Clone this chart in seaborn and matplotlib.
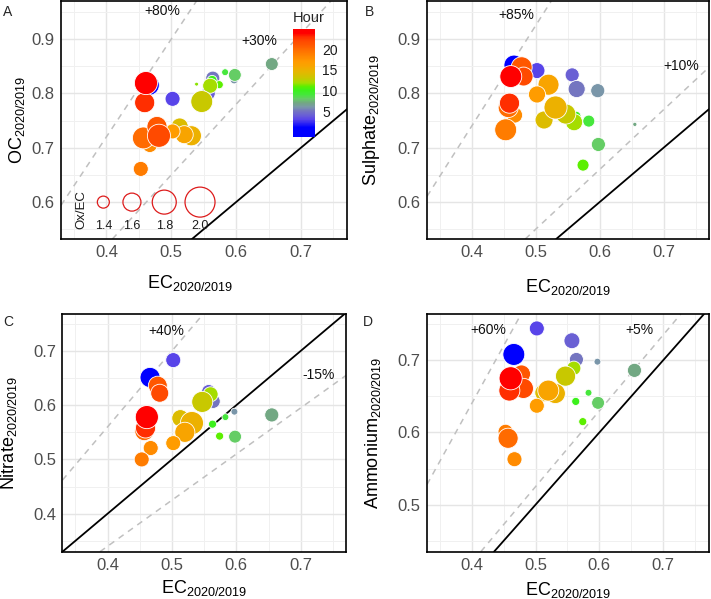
import matplotlib
matplotlib.use("Agg")
import matplotlib.pyplot as plt
import matplotlib as mpl
from matplotlib.colors import LinearSegmentedColormap, Normalize
from matplotlib.ticker import MultipleLocator
import seaborn as sns
import pandas as pd

# hourly ratios 2020/2019
hour = [1, 3, 4, 5, 6, 7, 8, 9, 10, 11, 11.5, 12, 13, 14, 15, 16, 17, 18, 19, 20, 21, 22, 23, 24]
ec = [0.466, 0.502, 0.557, 0.564, 0.597, 0.655, 0.598, 0.583, 0.563, 0.574, 0.539, 0.560,
      0.547, 0.513, 0.531, 0.520, 0.502, 0.467, 0.453, 0.457, 0.478, 0.481, 0.459, 0.461]

oc = [0.815, 0.790, 0.800, 0.828, 0.825, 0.854, 0.834, 0.839, 0.824, 0.816, 0.817, 0.814,
      0.785, 0.739, 0.722, 0.724, 0.730, 0.705, 0.661, 0.718, 0.739, 0.722, 0.783, 0.819]
oxec_oc = [1.67, 1.50, 1.47, 1.47, 1.27, 1.43, 1.43, 1.23, 1.33, 1.27, 1.13, 1.50,
           1.73, 1.57, 1.67, 1.60, 1.50, 1.50, 1.50, 1.73, 1.67, 1.77, 1.67, 1.77]

sulphate = [0.852, 0.842, 0.834, 0.808, 0.805, 0.743, 0.706, 0.749, 0.758, 0.668, 0.770, 0.747,
            0.762, 0.751, 0.774, 0.816, 0.798, 0.760, 0.733, 0.774, 0.848, 0.831, 0.782, 0.831]
oxec_sulphate = [1.67, 1.53, 1.47, 1.57, 1.47, 1.14, 1.47, 1.40, 1.33, 1.40, 1.27, 1.57,
                 1.67, 1.60, 1.77, 1.70, 1.57, 1.53, 1.73, 1.67, 1.70, 1.63, 1.67, 1.73]

nitrate = [0.651, 0.683, 0.625, 0.607, 0.588, 0.582, 0.542, 0.578, 0.565, 0.543, 0.560, 0.620,
           0.606, 0.576, 0.567, 0.550, 0.530, 0.521, 0.500, 0.552, 0.636, 0.622, 0.558, 0.578]
oxec_nitrate = [1.67, 1.50, 1.47, 1.47, 1.23, 1.47, 1.43, 1.23, 1.27, 1.27, 1.20, 1.50,
                1.70, 1.57, 1.77, 1.67, 1.50, 1.50, 1.50, 1.63, 1.63, 1.60, 1.67, 1.77]

ammonium = [0.708, 0.744, 0.727, 0.701, 0.698, 0.686, 0.641, 0.655, 0.643, 0.615, 0.665, 0.689,
            0.678, 0.655, 0.654, 0.658, 0.637, 0.563, 0.601, 0.592, 0.681, 0.661, 0.658, 0.675]
oxec_ammonium = [1.73, 1.50, 1.53, 1.47, 1.23, 1.47, 1.43, 1.23, 1.27, 1.27, 1.20, 1.47,
                 1.67, 1.60, 1.67, 1.70, 1.50, 1.50, 1.50, 1.67, 1.60, 1.67, 1.70, 1.77]

legend_oxec = [1.4, 1.6, 1.8, 2.0]

sns.set_style("white")
plt.rcParams["font.family"] = ["Liberation Sans", "DejaVu Sans"]
plt.rcParams["mathtext.fontset"] = "custom"
plt.rcParams["mathtext.rm"] = "Liberation Sans"
plt.rcParams["mathtext.it"] = "Liberation Sans:italic"

DPI = 100


def marker_area(v):
    d = 12 + (v - 1.4) * 30          # diameter in px
    return (d * 72 / DPI) ** 2


# hour colour scale
vmin, vmax = -1.4, 25.0
nodes = [(-1.4, "#0000ff"), (1.0, "#0000ff"), (3.0, "#5a46e8"), (4.0, "#6a60d4"),
         (5.0, "#7474c0"), (6.0, "#7a98a8"), (7.0, "#72a882"), (8.0, "#66cc66"),
         (9.0, "#44e83a"), (10.0, "#3cf01c"), (11.0, "#5af000"), (11.5, "#88e400"),
         (12.0, "#a8dc00"), (13.0, "#c8c800"), (14.0, "#dcbc00"), (15.0, "#ebb200"),
         (16.0, "#f8a400"), (17.0, "#ff9c00"), (18.0, "#ff8c00"), (19.0, "#ff7c00"),
         (20.0, "#ff6c00"), (21.0, "#ff5800"), (22.0, "#ff4a00"), (23.0, "#ff3000"),
         (24.0, "#ff0000"), (25.0, "#ff0000")]
cmap = LinearSegmentedColormap.from_list(
    "hour", [((h - vmin) / (vmax - vmin), c) for h, c in nodes])
norm = Normalize(vmin, vmax)

fig = plt.figure(figsize=(7.11, 5.99), dpi=DPI)

panels = [
    dict(letter="A", y=oc, size=oxec_oc, name="OC", rect=[0.0858, 0.6010, 0.4023, 0.3973],
         ylim=(0.532, 0.970), yticks=[0.6, 0.7, 0.8, 0.9], slopes=[1.8, 1.3],
         notes=[("+80%", 0.486, 0.951), ("+30%", 0.636, 0.896)],
         ylab_x=-0.119, xlab=(0.451, -0.143), letter_xy=(3, 12)),
    dict(letter="B", y=sulphate, size=oxec_sulphate, name="Sulphate",
         rect=[0.6006, 0.6010, 0.3966, 0.3973],
         ylim=(0.532, 0.970), yticks=[0.6, 0.7, 0.8, 0.9], slopes=[1.85, 1.1],
         notes=[("+85%", 0.470, 0.945), ("+10%", 0.728, 0.850)],
         ylab_x=-0.160, xlab=(0.5, -0.160), letter_xy=(365, 12)),
    dict(letter="C", y=nitrate, size=oxec_nitrate, name="Nitrate",
         rect=[0.0879, 0.0790, 0.3994, 0.3968],
         ylim=(0.330, 0.768), yticks=[0.4, 0.5, 0.6, 0.7], slopes=[1.4, 0.85],
         notes=[("+40%", 0.491, 0.737), ("-15%", 0.727, 0.655)],
         ylab_x=-0.153, xlab=(0.5, -0.110), letter_xy=(3, 322)),
    dict(letter="D", y=ammonium, size=oxec_ammonium, name="Ammonium",
         rect=[0.6006, 0.0790, 0.3959, 0.3968],
         ylim=(0.435, 0.764), yticks=[0.5, 0.6, 0.7], slopes=[1.6, 1.05],
         notes=[("+60%", 0.426, 0.742), ("+5%", 0.663, 0.742)],
         ylab_x=-0.156, xlab=(0.5, -0.120), letter_xy=(363, 322)),
]

for p in panels:
    ax = fig.add_axes(p["rect"])
    df = pd.DataFrame({"EC": ec, "Y": p["y"], "Hour": hour, "OxEC": p["size"]})
    sns.scatterplot(data=df, x="EC", y="Y", hue="Hour", palette=cmap, hue_norm=norm,
                    size="OxEC", sizes={v: marker_area(v) for v in df["OxEC"]},
                    edgecolor="white", linewidth=0.6, alpha=1, legend=False,
                    ax=ax, zorder=3)

    ax.axline((0, 0), slope=1, color="black", lw=1.3, zorder=2)
    for s in p["slopes"]:
        ax.axline((0, 0), slope=s, color="#c0c0c0", lw=1.1, ls=(0, (4, 3.5)), zorder=2)
    for txt, tx, ty in p["notes"]:
        ax.text(tx, ty, txt, ha="center", va="center", fontsize=10, color="#111111", zorder=4)

    ax.set_xlim(0.33, 0.771)
    ax.set_ylim(*p["ylim"])
    ax.set_xticks([0.4, 0.5, 0.6, 0.7])
    ax.set_yticks(p["yticks"])
    ax.xaxis.set_minor_locator(MultipleLocator(0.05))
    ax.yaxis.set_minor_locator(MultipleLocator(0.05))
    ax.set_axisbelow(True)
    ax.grid(which="major", color="#e5e5e5", lw=1.0)
    ax.grid(which="minor", color="#f0f0f0", lw=0.7)
    ax.tick_params(which="major", length=2.5, width=0.8, color="#333333",
                   labelcolor="#4d4d4d", labelsize=12, pad=2)
    ax.tick_params(which="minor", length=0)
    for sp in ax.spines.values():
        sp.set_color("black")
        sp.set_linewidth(1.2)

    ax.set_xlabel(r"EC$_{2020/2019}$", fontsize=13, color="black")
    ax.set_ylabel(p["name"] + r"$_{2020/2019}$", fontsize=13, color="black")
    ax.xaxis.set_label_coords(*p["xlab"])
    ax.xaxis.label.set_va("top")
    ax.yaxis.set_label_coords(p["ylab_x"], 0.5)

    fig.text(p["letter_xy"][0] / 711, 1 - p["letter_xy"][1] / 599, p["letter"],
             ha="left", va="center", fontsize=10)

    if p["letter"] == "A":
        # colour bar for hour
        cax = ax.inset_axes([0.811, 0.427, 0.077, 0.456])
        cb = fig.colorbar(mpl.cm.ScalarMappable(norm=norm, cmap=cmap), cax=cax,
                          ticks=[5, 10, 15, 20])
        cb.outline.set_visible(False)
        cax.tick_params(direction="in", color="white", length=4, width=0.8,
                        labelsize=10, labelcolor="#1a1a1a", pad=5)
        cax.set_title("Hour", fontsize=10.5, loc="left", pad=5)

        # size legend for Ox/EC
        leg_x = [0.148, 0.248, 0.361, 0.486]
        ax.scatter(leg_x, [0.155] * 4, s=[marker_area(v) for v in legend_oxec],
                   facecolors="none", edgecolors="#dd1c1c", linewidths=0.9,
                   transform=ax.transAxes, zorder=4)
        for lx, v in zip(leg_x, legend_oxec):
            ax.text(lx, 0.053, f"{v:.1f}", transform=ax.transAxes, ha="center",
                    va="center", fontsize=9, color="#1a1a1a", zorder=4)
        ax.text(0.07, 0.125, "Ox/EC", transform=ax.transAxes, rotation=90,
                ha="center", va="center", fontsize=9.5, color="#1a1a1a", zorder=4)

fig.savefig("out.png", dpi=DPI)
